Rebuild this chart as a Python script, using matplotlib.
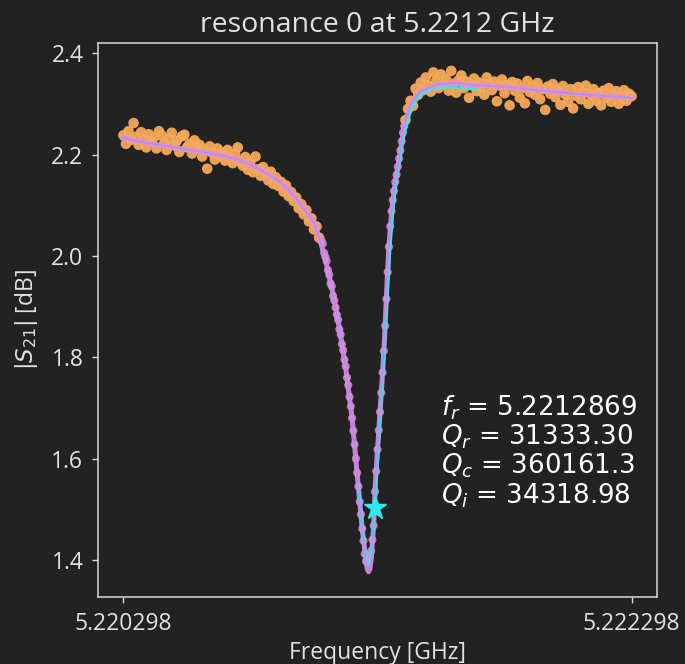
import numpy as np
import matplotlib
matplotlib.use("Agg")
import matplotlib.pyplot as plt

# frequency offsets from the first point, in kHz
F0 = 5.220298
f_r = 5.2212869

left_khz = [0, 10, 20, 30, 40, 50, 60, 70, 80, 90, 100, 110, 120, 130, 140, 150, 160, 170, 180, 190,
            200, 210, 220, 230, 240, 250, 260, 270, 280, 290, 300, 310, 320, 330, 340, 350, 360, 370, 380, 390,
            400, 410, 420, 430, 440, 450, 460, 470, 480, 490, 500, 510, 520, 530, 540, 550, 560, 570, 580, 590,
            600, 610, 620, 630, 640, 650, 660, 670, 680, 690, 700, 710, 720, 730, 740, 750, 760, 770]
left_db = [2.238, 2.221, 2.246, 2.229, 2.262, 2.235, 2.219, 2.244, 2.231, 2.214, 2.240, 2.226, 2.233, 2.212, 2.246, 2.238, 2.222, 2.209, 2.231, 2.243,
           2.218, 2.227, 2.205, 2.236, 2.239, 2.214, 2.221, 2.202, 2.228, 2.211, 2.219, 2.196, 2.207, 2.172, 2.216, 2.203, 2.190, 2.212, 2.197, 2.204,
           2.188, 2.209, 2.194, 2.183, 2.201, 2.214, 2.186, 2.178, 2.195, 2.170, 2.186, 2.165, 2.196, 2.171, 2.158, 2.175, 2.162, 2.149, 2.166, 2.142,
           2.155, 2.138, 2.146, 2.127, 2.139, 2.118, 2.126, 2.108, 2.115, 2.094, 2.102, 2.082, 2.090, 2.068, 2.074, 2.052, 2.058, 2.036]

dip_khz = [780, 785, 790, 795, 800, 805, 810, 815, 820, 825, 830, 835, 840, 845, 850, 855, 860, 865, 870, 875,
           880, 885, 890, 895, 900, 905, 910, 915, 920, 925, 930, 935, 940, 945, 950, 955, 960, 965, 970, 975,
           980, 985, 990, 995, 1000, 1005, 1010, 1015, 1020, 1025, 1030, 1035, 1040, 1045, 1050, 1055, 1060, 1065,
           1070, 1075, 1080, 1085, 1090, 1095, 1100, 1105]
dip_db = [2.030, 2.024, 2.006, 1.998, 1.990, 1.972, 1.963, 1.946, 1.940, 1.921, 1.912, 1.898, 1.884, 1.874, 1.855, 1.845, 1.826, 1.814, 1.795, 1.782,
          1.760, 1.745, 1.722, 1.703, 1.680, 1.655, 1.628, 1.600, 1.572, 1.545, 1.515, 1.490, 1.462, 1.438, 1.412, 1.398, 1.395, 1.405, 1.410, 1.418,
          1.440, 1.468, 1.535, 1.575, 1.618, 1.656, 1.692, 1.730, 1.770, 1.812, 1.862, 1.915, 1.968, 2.018, 2.058, 2.088, 2.110, 2.128,
          2.146, 2.160, 2.176, 2.192, 2.208, 2.226, 2.243, 2.256]

right_khz = [1110, 1120, 1130, 1140, 1150, 1160, 1170, 1180, 1190, 1200, 1210, 1220, 1230, 1240, 1250, 1260, 1270, 1280, 1290, 1300,
             1310, 1320, 1330, 1340, 1350, 1360, 1370, 1380, 1390, 1400, 1410, 1420, 1430, 1440, 1450, 1460, 1470, 1480, 1490, 1500,
             1510, 1520, 1530, 1540, 1550, 1560, 1570, 1580, 1590, 1600, 1610, 1620, 1630, 1640, 1650, 1660, 1670, 1680, 1690, 1700,
             1710, 1720, 1730, 1740, 1750, 1760, 1770, 1780, 1790, 1800, 1810, 1820, 1830, 1840, 1850, 1860, 1870, 1880, 1890, 1900,
             1910, 1920, 1930, 1940, 1950, 1960, 1970, 1980, 1990, 2000]
right_db = [2.268, 2.290, 2.306, 2.296, 2.330, 2.318, 2.342, 2.327, 2.352, 2.336, 2.324, 2.362, 2.344, 2.331, 2.358, 2.338, 2.349, 2.326, 2.365, 2.340,
            2.322, 2.347, 2.356, 2.331, 2.344, 2.312, 2.337, 2.350, 2.325, 2.342, 2.333, 2.318, 2.352, 2.339, 2.327, 2.344, 2.305, 2.336, 2.348, 2.321,
            2.337, 2.297, 2.343, 2.326, 2.340, 2.312, 2.331, 2.301, 2.345, 2.323, 2.336, 2.318, 2.341, 2.309, 2.329, 2.288, 2.334, 2.320, 2.339, 2.313,
            2.327, 2.298, 2.335, 2.318, 2.304, 2.329, 2.291, 2.316, 2.333, 2.309, 2.322, 2.336, 2.300, 2.318, 2.329, 2.306, 2.321, 2.297, 2.326, 2.312,
            2.331, 2.304, 2.318, 2.325, 2.300, 2.314, 2.327, 2.306, 2.320, 2.315]

# fitted model
fit_khz = [0, 100, 200, 300, 400, 450, 500, 550, 600, 650, 700, 725, 750, 775, 800, 825, 850, 875, 900, 920,
           940, 955, 960, 965, 970, 975, 985, 992, 1005, 1018, 1028, 1035, 1045, 1058, 1070, 1084, 1104, 1130, 1169, 1235,
           1290, 1340, 1450, 1535, 1650, 1730, 1850, 2000]
fit_db = [2.232, 2.222, 2.214, 2.206, 2.197, 2.190, 2.180, 2.167, 2.152, 2.131, 2.100, 2.084, 2.066, 2.030, 1.982, 1.925, 1.858, 1.778, 1.680, 1.570,
          1.460, 1.398, 1.382, 1.377, 1.382, 1.400, 1.470, 1.556, 1.654, 1.753, 1.840, 1.920, 2.020, 2.100, 2.145, 2.187, 2.253, 2.299, 2.325, 2.338,
          2.341, 2.339, 2.335, 2.332, 2.326, 2.322, 2.317, 2.312]

# second (initial guess) curve
guess_khz = [925, 940, 952, 960, 967, 975, 985, 995, 1008, 1022, 1036, 1050, 1062, 1076, 1092, 1110, 1135, 1170, 1220, 1280, 1340, 1390]
guess_db = [1.550, 1.465, 1.415, 1.395, 1.392, 1.410, 1.465, 1.550, 1.660, 1.775, 1.900, 2.020, 2.095, 2.155, 2.205, 2.250, 2.292, 2.318, 2.330, 2.333, 2.331, 2.328]

star_db = 1.503

Q_r = 31333.30
Q_c = 360161.3
Q_i = 34318.98


def to_ghz(khz):
    return F0 + np.array(khz) * 1e-6


bg = "#222222"
fg = "#e2e2e2"
plt.rcParams["font.family"] = ["Open Sans", "DejaVu Sans"]
plt.rcParams["font.size"] = 16.5

fig = plt.figure(figsize=(6.85, 6.64), dpi=100, facecolor=bg)
ax = fig.add_axes([98 / 685, 1 - 597 / 664, 559 / 685, 554 / 664])
ax.set_facecolor(bg)

ax.scatter(to_ghz(left_khz), left_db, s=58, color="#f6a95a", edgecolors="none", alpha=0.95, zorder=2)
ax.scatter(to_ghz(right_khz), right_db, s=58, color="#f6a95a", edgecolors="none", alpha=0.95, zorder=2)
ax.scatter(to_ghz(dip_khz), dip_db, s=34, color="#d58fcf", edgecolors="none", alpha=0.85, zorder=2)

ax.plot(to_ghz(fit_khz), fit_db, color="#dd8fe0", lw=3.6, alpha=0.9, zorder=3)
ax.plot(to_ghz(guess_khz), guess_db, color="#3fe3f0", lw=2.0, alpha=0.85, zorder=4)
ax.plot(to_ghz(fit_khz), fit_db, color="#a98af2", lw=1.0, alpha=0.8, zorder=4)
ax.plot([f_r], [star_db], marker="*", ms=17, color="#30e8f0", mec="#30e8f0", zorder=5)

ax.set_xlim(F0 - 100e-6, F0 + 2100e-6)
ax.set_ylim(1.327, 2.420)
ax.set_xticks([5.220298, 5.222298])
ax.set_xticklabels(["5.220298", "5.222298"])
ax.set_yticks([1.4, 1.6, 1.8, 2.0, 2.2, 2.4])
ax.set_yticklabels(["1.4", "1.6", "1.8", "2.0", "2.2", "2.4"])

for s in ax.spines.values():
    s.set_color("#d8d8d8")
    s.set_linewidth(1.1)
ax.tick_params(colors="#d8d8d8", labelcolor=fg, length=4.5, width=1.0, pad=6)

ax.set_title("resonance 0 at 5.2212 GHz", color=fg, fontsize=20.5, pad=8)
ax.set_xlabel("Frequency [GHz]", color=fg, labelpad=4)
ax.set_ylabel(r"$|S_{21}|$ [dB]", color=fg, labelpad=8)

txt = (r"$f_r$ = %.7f" % f_r + "\n" + r"$Q_r$ = %.2f" % Q_r + "\n"
       + r"$Q_c$ = %.1f" % Q_c + "\n" + r"$Q_i$ = %.2f" % Q_i)
ax.text(0.613, 0.368, txt, transform=ax.transAxes, color="white", fontsize=18.8,
        family="DejaVu Sans", va="top", ha="left", linespacing=1.04)

fig.savefig("out.png", dpi=100, facecolor=bg)
